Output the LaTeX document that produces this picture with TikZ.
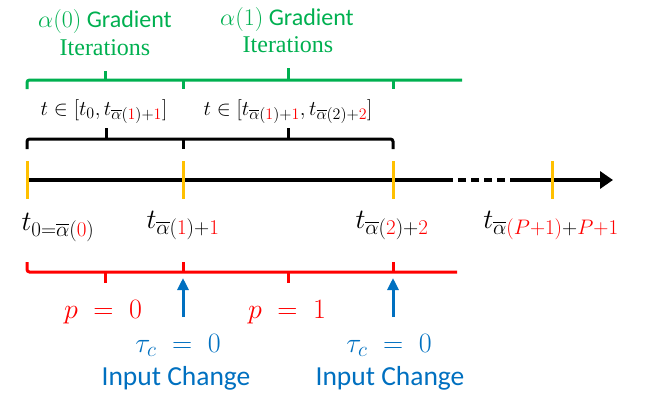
\documentclass[tikz,border=0pt]{standalone}
\usepackage{fix-cm}
\usepackage{amsmath,amssymb}
\usepackage{fontspec}
\setmainfont{Carlito}
\newfontfamily\bookface{Liberation Serif}
\usetikzlibrary{arrows.meta,positioning,calc}
\DeclareMathSizes{28}{28}{21}{15}
\DeclareMathSizes{21}{21}{16}{12}
\definecolor{ink}{HTML}{000000}
\definecolor{leaf}{HTML}{00B050}
\definecolor{signal}{HTML}{FF0000}
\definecolor{ocean}{HTML}{0070C0}
\definecolor{amber}{HTML}{FFC000}
\newcommand{\rd}[1]{{\color{signal}#1}}
\newcommand{\abar}{\overline{\alpha}}

\begin{document}
\begin{tikzpicture}[x=1pt,y=-1pt,
   axis/.style={draw=ink,line width=4pt},
   tickline/.style={draw=amber,line width=3pt},
   brace/.style={line width=3pt,rounded corners=2.5pt},
   cue/.style={draw=ocean,line width=3pt,-{Triangle[length=12pt,width=11pt]}},
   head/.style={font=\fontsize{24}{28}\selectfont,text=leaf,inner sep=0pt,anchor=base},
   span/.style={font=\fontsize{21}{25}\selectfont,inner sep=0pt,anchor=base},
   big/.style={font=\fontsize{28}{32}\selectfont,inner sep=0pt,anchor=base},
   note/.style={font=\fontsize{27.5}{32}\selectfont,text=ocean,inner sep=0pt,anchor=base}]
  \useasboundingbox (0,0) rectangle (646,397);

  % time axis
  \coordinate (a0) at (27,180);
  \coordinate (a1) at (183,180);
  \coordinate (a2) at (393,180);
  \coordinate (a3) at (552,180);
  \coordinate (gapL) at (453,180);
  \coordinate (gapR) at (510,180);
  \coordinate (aEnd) at (613,180);
  \draw[axis] (a0) -- (gapL);
  \draw[axis,dash pattern=on 8pt off 5pt] ($(gapL)+(5,0)$) -- ($(gapR)+(-3,0)$);
  \draw[axis,-{Triangle[length=13pt,width=17pt]}] (gapR) -- (aEnd);
  \foreach \k in {a0,a1,a2,a3}
    \draw[tickline] ($(\k)+(0,-19)$) -- ($(\k)+(0,19)$);

  % green braces
  \draw[brace,leaf] (27,89) -- (27,80) -- (462,80);
  \draw[brace,leaf] (105,80) -- (105,71);
  \draw[brace,leaf] (288,80) -- (288,68);
  \draw[brace,leaf] (183,80) -- (183,89);
  \draw[brace,leaf] (393,80) -- (393,89);

  % black braces
  \draw[brace] (27,149) -- (27,139) -- (393,139) -- (393,149);
  \draw[brace] (106,139) -- (106,128);
  \draw[brace] (288,139) -- (288,128);
  \draw[brace] (183,139) -- (183,149);

  % red braces
  \draw[brace,signal] (27,262) -- (27,272) -- (457,272);
  \draw[brace,signal] (105,272) -- (105,283);
  \draw[brace,signal] (288,272) -- (288,283);
  \draw[brace,signal] (183,272) -- (183,262);
  \draw[brace,signal] (393,272) -- (393,262);

  \node[head] (g0top) at (105,27) {$\alpha(0)$ Gradient};
  \node[head] (g0bot) at (105,55) {\fontspec{Liberation Serif}Iterations};
  \node[head] (g1top) at (287,25) {$\alpha(1)$ Gradient};
  \node[head] (g1bot) at (288,52) {\fontspec{Liberation Serif}Iterations};

  \node[span] (span0) at (104,115) {$t\in[t_0,t_{\abar(\rd{1})+\rd{1}}]$};
  \node[span] (span1) at (288,115) {$t\in[t_{\abar(\rd{1})+\rd{1}},t_{\abar(2)+\rd{2}}]$};

  \node[big] (lt0) at (58,230) {$t_{0=\abar(\rd{0})}$};
  \node[big] (lt1) at (183,228) {$t_{\abar(\rd{1})+\rd{1}}$};
  \node[big] (lt2) at (392,228) {$t_{\abar(\rd{2})+\rd{2}}$};
  \node[big] (lt3) at (551,228) {$t_{\abar\rd{(P+1)}+\rd{P+1}}$};

  \node[big,text=signal] (p0) at (103,318) {$p\;=\;0$};
  \node[big,text=signal] (p1) at (287,318) {$p\;=\;1$};

  \node[big,text=ocean] (tau0) at (178,352) {$\tau_c\;=\;0$};
  \node[big,text=ocean] (tau1) at (389,352) {$\tau_c\;=\;0$};
  \node[note] (ic0) at (176,385) {Input Change};
  \node[note] (ic1) at (390,385) {Input Change};

  \coordinate (c0) at (183,317);
  \coordinate (c1) at (393,317);
  \draw[cue] (c0) -- (183,278);
  \draw[cue] (c1) -- (393,278);
\end{tikzpicture}
\end{document}
